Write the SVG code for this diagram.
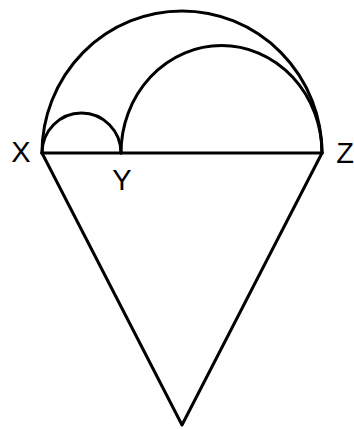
<svg xmlns="http://www.w3.org/2000/svg" width="354" height="430" viewBox="0 0 354 430">
<style>
.ln{fill:none;stroke:#000;stroke-width:3;stroke-linecap:round;stroke-linejoin:round}
.lb{font-family:"Liberation Sans",Arial,sans-serif;font-size:29px;fill:#000;text-anchor:middle}
</style>
<rect width="354" height="430" fill="#fff"/>
<g id="connectors">
<path class="ln" d="M42,153 A140,142 0 0 1 322,153"/>
<path class="ln" d="M42,153 A39.5,40 0 0 1 121,153"/>
<path class="ln" d="M121,153 A100.5,107.5 0 0 1 322,153"/>
<path class="ln" d="M42,153 L322,153"/>
<path class="ln" d="M42,153 L182,425 L322,153"/>
</g>
<g id="X"><text class="lb" x="21" y="162">X</text></g>
<g id="Y"><text class="lb" x="122" y="190">Y</text></g>
<g id="Z"><text class="lb" x="345" y="163">Z</text></g>
</svg>
